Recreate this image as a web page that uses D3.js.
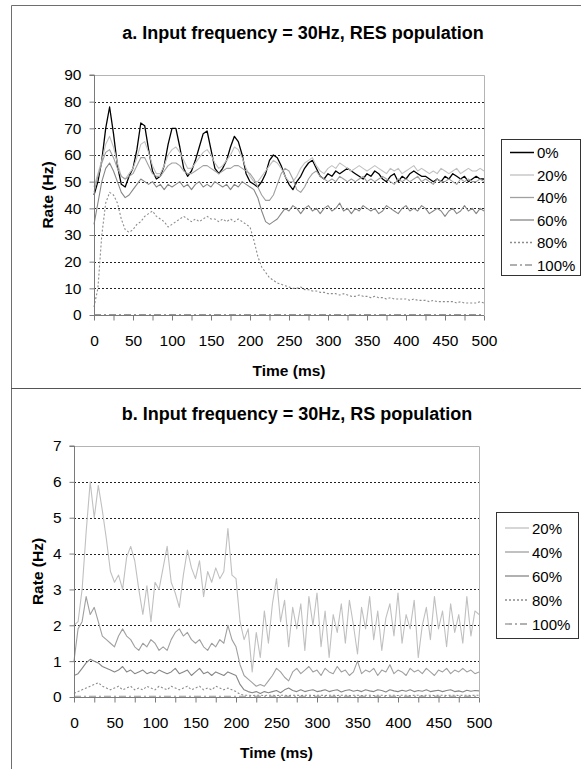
<!DOCTYPE html>
<html>
<head>
<meta charset="utf-8">
<script src="https://cdn.jsdelivr.net/npm/d3@7"></script>
<style>
  html, body { margin: 0; padding: 0; background: #fff; }
  svg { display: block; font-family: "Liberation Sans", Arial, sans-serif; }
</style>
</head>
<body>
<svg id="fig" width="581" height="769"></svg>
<script>
// Time axis: every series spans 0..500 ms, samples evenly spaced over that span.
const tMax = 500;
const xTickValues = [0, 25, 50, 75, 100, 125, 150, 175, 200, 225, 250, 275, 300, 325, 350, 375, 400, 425, 450, 475, 500];
const xLabelValues = [0, 50, 100, 150, 200, 250, 300, 350, 400, 450, 500];
const resTicks = [0, 10, 20, 30, 40, 50, 60, 70, 80, 90];
const rsTicks = [0, 1, 2, 3, 4, 5, 6, 7];

// Panel a: RES population rate (Hz), 5 ms samples
const res0 = [45,50,58,70,78,68,56,49,48,52,55,62,72,71,62,54,51,52,56,64,70,70,63,55,52,54,58,63,68,69,62,55,53,55,58,63,67,65,60,53,50,49,48,50,53,58,60,59,56,52,49,47,50,52,55,57,58,55,52,51,53,52,54,53,54,55,54,53,52,51,53,52,54,53,51,50,52,53,50,52,51,53,54,53,52,52,51,50,51,50,52,51,53,52,51,52,50,51,52,51,51];
const res20 = [48,53,58,64,67,63,57,52,51,53,55,59,64,65,61,56,53,53,56,60,62,63,61,58,55,55,57,59,61,62,60,57,55,56,58,60,63,62,59,55,52,50,50,52,54,56,58,57,55,52,50,50,52,55,57,58,59,56,54,53,55,56,55,57,56,55,54,55,56,55,54,55,56,55,54,53,55,54,55,53,54,55,56,54,55,54,53,54,53,55,54,53,54,55,53,54,55,54,54,55,54];
const res40 = [46,52,57,61,62,59,55,52,51,52,53,56,59,59,56,53,52,52,54,56,57,57,56,54,53,53,54,55,56,56,55,54,53,54,55,55,56,56,55,54,53,51,48,45,43,43,45,49,53,55,54,51,47,46,48,51,53,54,52,51,50,51,50,52,51,50,51,50,51,52,50,51,50,51,52,51,50,49,51,50,51,50,51,52,50,51,50,49,51,50,50,51,50,49,51,50,51,50,50,51,50];
const res60 = [34,42,50,55,57,54,50,46,44,45,47,49,51,50,49,50,48,49,47,49,48,49,50,48,49,47,49,50,48,49,48,50,49,48,49,47,49,48,50,49,48,47,44,39,35,34,35,36,38,40,39,41,40,38,40,41,39,40,38,40,41,39,40,42,39,40,38,40,39,41,40,39,40,38,39,41,40,39,38,40,41,39,40,39,41,40,38,39,40,39,37,39,40,38,39,41,39,40,38,40,39];
const res80 = [3,10,30,42,46,45,42,36,32,31,32,34,35,37,38,39,37,36,35,33,34,35,36,37,36,35,36,35,36,37,36,36,35,36,35,36,35,36,35,34,33,28,22,18,16,14,13,12,11.5,11,10.5,10,10,10.5,9.5,9.5,9,9,8.5,8.5,8,8,8,7.5,8,7.5,7,7,7.5,7,7,6.5,7,6.5,6.5,6,6.5,6,6,6,6,5.5,6,5.5,5.5,5.5,5,5.5,5,5,5,5,5,4.5,5,4.5,4.5,4.5,4.5,5,4.5];
const res100 = [0.2,0.2,0.2,0.2,0.2,0.2,0.2,0.2,0.2,0.2,0.2];

// Panel b: RS population rate (Hz), 5 ms samples
const rs20 = [2.0,2.1,3.0,4.6,6.0,5.0,5.9,5.2,4.4,3.5,3.2,3.4,3.0,3.9,4.2,3.8,3.0,2.3,3.1,2.1,3.2,3.0,3.6,4.2,3.2,2.9,2.5,3.4,4.1,3.6,3.3,3.8,2.8,3.5,3.2,3.6,3.3,3.5,4.7,3.4,3.3,2.1,1.6,1.9,0.7,1.8,1.1,2.4,1.5,2.6,3.3,2.1,2.7,1.4,2.5,1.9,2.6,1.3,2.8,2.0,2.9,1.4,2.4,1.1,2.3,1.8,2.6,1.5,2.7,2.0,1.2,2.5,1.9,2.8,1.6,2.4,1.3,2.2,2.6,1.7,2.9,1.5,2.3,1.9,2.7,1.1,2.0,2.5,1.6,2.8,1.9,2.4,1.4,2.6,1.8,2.3,1.5,2.8,1.7,2.4,2.3];
const rs40 = [1.0,1.9,2.1,2.8,2.3,2.5,2.1,1.7,1.6,1.5,1.4,1.7,1.9,1.7,1.6,1.4,1.3,1.5,1.4,1.6,1.5,1.3,1.4,1.3,1.6,1.8,1.9,1.7,1.8,1.6,1.5,1.6,1.4,1.3,1.5,1.4,1.6,1.5,2.0,1.6,1.4,0.9,0.6,0.5,0.4,0.3,0.35,0.3,0.45,0.6,0.8,0.7,0.55,0.45,0.7,0.8,0.65,0.75,0.85,0.7,0.75,0.6,0.8,0.7,0.65,0.85,0.7,0.75,0.6,0.7,1.0,0.65,0.75,0.7,0.8,0.6,0.75,0.7,0.9,0.65,0.75,0.7,0.6,0.8,0.7,0.75,0.65,0.8,0.7,0.6,0.75,0.7,0.8,0.65,0.75,0.7,0.8,0.7,0.75,0.65,0.7];
const rs60 = [0.6,0.65,0.8,0.95,1.05,1.0,0.95,0.85,0.8,0.75,0.7,0.75,0.85,0.7,0.75,0.65,0.7,0.75,0.65,0.7,0.65,0.75,0.7,0.65,0.7,0.8,0.65,0.7,0.75,0.6,0.7,0.8,0.65,0.7,0.6,0.7,0.65,0.6,0.7,0.65,0.6,0.35,0.2,0.15,0.12,0.15,0.1,0.15,0.12,0.15,0.18,0.12,0.2,0.25,0.18,0.15,0.2,0.15,0.18,0.2,0.15,0.17,0.2,0.15,0.18,0.2,0.14,0.18,0.2,0.16,0.19,0.15,0.2,0.17,0.15,0.2,0.18,0.14,0.2,0.17,0.15,0.19,0.16,0.2,0.15,0.18,0.16,0.2,0.15,0.17,0.19,0.15,0.18,0.2,0.15,0.17,0.14,0.19,0.16,0.18,0.17];
const rs80 = [0.1,0.15,0.2,0.25,0.3,0.35,0.4,0.3,0.25,0.2,0.25,0.3,0.2,0.25,0.3,0.2,0.25,0.2,0.3,0.25,0.2,0.3,0.25,0.2,0.3,0.25,0.2,0.25,0.3,0.2,0.25,0.3,0.2,0.25,0.2,0.3,0.25,0.2,0.25,0.2,0.15,0.08,0.05,0.05,0.04,0.05,0.05,0.04,0.05,0.05,0.04,0.05,0.05,0.04,0.05,0.05,0.04,0.05,0.05,0.04,0.05,0.05,0.04,0.05,0.05,0.04,0.05,0.05,0.04,0.05,0.05,0.04,0.05,0.05,0.04,0.05,0.05,0.04,0.05,0.05,0.04,0.05,0.05,0.04,0.05,0.05,0.04,0.05,0.05,0.04,0.05,0.05,0.04,0.05,0.05,0.04,0.05,0.05,0.04,0.05,0.05];
const rs100 = [0.02,0.02,0.02,0.02,0.02,0.02,0.02,0.02,0.02,0.02,0.02];

const resLabels = ["0%", "20%", "40%", "60%", "80%", "100%"];
const rsLabels = ["20%", "40%", "60%", "80%", "100%"];

// Line styles per input-correlation level
const styles = {
  "0%":   { color: "#000000", width: 1.3, dash: null },
  "20%":  { color: "#c0c0c0", width: 1.1, dash: null },
  "40%":  { color: "#a0a0a0", width: 1.1, dash: null },
  "60%":  { color: "#878787", width: 1.1, dash: null },
  "80%":  { color: "#8c8c8c", width: 1.1, dash: "2,2" },
  "100%": { color: "#969696", width: 1.1, dash: "7,3,2,3" }
};

const svg = d3.select("#fig");
const font = "Liberation Sans, Arial, sans-serif";

// Outer frame and panel separator
svg.append("path").attr("d", "M11.5,769 V5.5 H581").attr("fill", "none").attr("stroke", "#6e6e6e").attr("stroke-width", 1);
svg.append("line").attr("x1", 11).attr("x2", 581).attr("y1", 388.5).attr("y2", 388.5).attr("stroke", "#555").attr("stroke-width", 1);

function toPoints(values) {
  const n = values.length;
  return values.map((v, i) => [i * tMax / (n - 1), v]);
}

function panel(cfg) {
  const x = d3.scaleLinear().domain([0, tMax]).range([cfg.left, cfg.right]);
  const y = d3.scaleLinear().domain([0, cfg.yMax]).range([cfg.bottom, cfg.top]);
  const g = svg.append("g");

  // dotted gridlines
  g.append("g").selectAll("line")
    .data(cfg.yTicks.filter(v => v > 0 && v < cfg.yMax))
    .join("line")
    .attr("x1", cfg.left).attr("x2", cfg.right)
    .attr("y1", d => Math.round(y(d)) + 0.5).attr("y2", d => Math.round(y(d)) + 0.5)
    .attr("stroke", "#222").attr("stroke-width", 1).attr("stroke-dasharray", "2,2");

  // plot-area border (top and right)
  g.append("path")
    .attr("d", `M${cfg.left},${Math.round(y(cfg.yMax)) + 0.5} H${Math.round(cfg.right) + 0.5} V${cfg.bottom}`)
    .attr("fill", "none").attr("stroke", "#b4b4b4").attr("stroke-width", 1);

  // series
  const line = d3.line().x(d => x(d[0])).y(d => y(d[1]));
  cfg.series.forEach(s => {
    const st = styles[s.label];
    g.append("path")
      .datum(toPoints(s.values))
      .attr("d", line)
      .attr("fill", "none")
      .attr("stroke", st.color)
      .attr("stroke-width", st.width)
      .attr("stroke-linejoin", "round")
      .attr("stroke-dasharray", st.dash);
  });

  // y axis
  const yAxis = d3.axisLeft(y).tickValues(cfg.yTicks).tickSize(5).tickPadding(8).tickFormat(d3.format("d"));
  const ya = g.append("g").attr("transform", `translate(${Math.round(cfg.left) + 0.5},0)`).call(yAxis);
  ya.select(".domain").attr("stroke", "#7a7a7a").attr("d", `M-5,${y(cfg.yMax)}H0V${cfg.bottom}`);
  ya.selectAll(".tick line").attr("stroke", "#7a7a7a");
  ya.selectAll(".tick text").attr("font-family", font).attr("font-size", 15.5).attr("fill", "#000");

  // x axis: ticks every 25 ms, labels every 50 ms
  const xAxis = d3.axisBottom(x).tickValues(xTickValues).tickSize(5).tickPadding(14)
    .tickFormat(d => xLabelValues.includes(d) ? d : "");
  const xa = g.append("g").attr("transform", `translate(0,${Math.round(cfg.bottom) + 0.5})`).call(xAxis);
  xa.select(".domain").attr("stroke", "#7a7a7a").attr("d", `M${cfg.left},0H${cfg.right}`);
  xa.selectAll(".tick line").attr("stroke", "#7a7a7a");
  xa.selectAll(".tick text").attr("font-family", font).attr("font-size", 15.5).attr("fill", "#000");

  // titles
  svg.append("text").attr("x", cfg.titleX).attr("y", cfg.titleY)
    .attr("text-anchor", "middle").attr("font-family", font).attr("font-size", 18).attr("font-weight", "bold")
    .text(cfg.title);
  svg.append("text").attr("x", (cfg.left + cfg.right) / 2).attr("y", cfg.bottom + 61)
    .attr("text-anchor", "middle").attr("font-family", font).attr("font-size", 15.5).attr("font-weight", "bold")
    .text("Time (ms)");
  svg.append("text")
    .attr("transform", `translate(${cfg.yTitleX},${(cfg.top + cfg.bottom) / 2}) rotate(-90)`)
    .attr("text-anchor", "middle").attr("font-family", font).attr("font-size", 15.5).attr("font-weight", "bold")
    .text("Rate (Hz)");

  // legend
  const L = cfg.legend;
  const lg = svg.append("g");
  lg.append("rect").attr("x", L.x + 0.5).attr("y", L.y + 0.5).attr("width", L.w).attr("height", L.h)
    .attr("fill", "#fff").attr("stroke", "#333").attr("stroke-width", 1);
  cfg.series.forEach((s, i) => {
    const st = styles[s.label];
    const cy = L.y + L.pad + i * L.step;
    lg.append("line").attr("x1", L.x + 9).attr("x2", L.x + 33).attr("y1", cy).attr("y2", cy)
      .attr("stroke", st.color).attr("stroke-width", st.width + 0.2).attr("stroke-dasharray", st.dash);
    lg.append("text").attr("x", L.x + 36).attr("y", cy + 5.5)
      .attr("font-family", font).attr("font-size", 15).attr("fill", "#000").text(s.label);
  });
}

panel({
  title: "a. Input frequency = 30Hz, RES population",
  titleX: 303, titleY: 39,
  left: 94, right: 484, top: 75, bottom: 315,
  yMax: 90, yTicks: resTicks, yTitleX: 53,
  series: [res0, res20, res40, res60, res80, res100].map((v, i) => ({ label: resLabels[i], values: v })),
  legend: { x: 501, y: 139, w: 79, h: 136, pad: 13.5, step: 22.5 }
});

panel({
  title: "b. Input frequency = 30Hz, RS population",
  titleX: 297, titleY: 420,
  left: 74, right: 479, top: 446, bottom: 697,
  yMax: 7, yTicks: rsTicks, yTitleX: 43,
  series: [rs20, rs40, rs60, rs80, rs100].map((v, i) => ({ label: rsLabels[i], values: v })),
  legend: { x: 496, y: 512, w: 82, h: 126, pad: 16, step: 24 }
});
</script>
</body>
</html>
